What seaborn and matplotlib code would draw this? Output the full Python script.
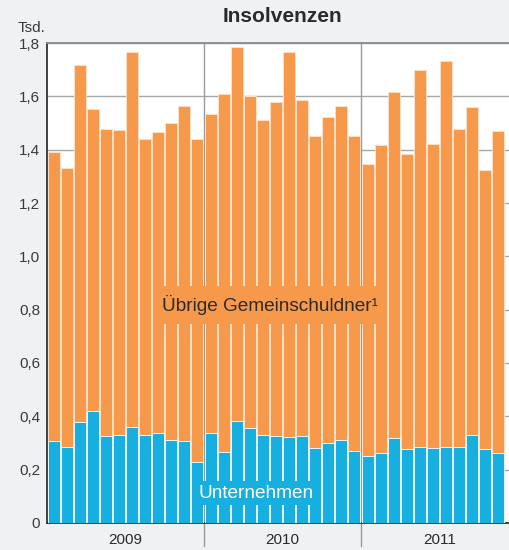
import matplotlib
matplotlib.use("Agg")
import matplotlib.pyplot as plt
import seaborn as sns
import pandas as pd

# ---- data (Tsd.) ----
months = [f"{y}-{m:02d}" for y in (2009, 2010, 2011) for m in range(1, 13)][:35]
total = [1.392, 1.332, 1.719, 1.551, 1.476, 1.474, 1.766, 1.440, 1.467, 1.501, 1.565, 1.439,
         1.532, 1.610, 1.785, 1.601, 1.512, 1.579, 1.766, 1.585, 1.452, 1.521, 1.565, 1.450,
         1.345, 1.416, 1.615, 1.383, 1.700, 1.422, 1.734, 1.478, 1.559, 1.324, 1.471]
unternehmen = [0.307, 0.284, 0.379, 0.419, 0.325, 0.331, 0.359, 0.329, 0.336, 0.311, 0.306, 0.230,
               0.339, 0.265, 0.382, 0.356, 0.330, 0.327, 0.322, 0.325, 0.280, 0.300, 0.311, 0.270,
               0.252, 0.262, 0.317, 0.279, 0.285, 0.282, 0.286, 0.284, 0.329, 0.276, 0.262]
years = ["2009", "2010", "2011"]
ytick_vals = [0, 0.2, 0.4, 0.6, 0.8, 1.0, 1.2, 1.4, 1.6, 1.8]
ytick_labels = ["0", "0,2", "0,4", "0,6", "0,8", "1,0", "1,2", "1,4", "1,6", "1,8"]

df = pd.DataFrame({"month": months, "total": total, "unternehmen": unternehmen})

ORANGE = "#f7994a"
BLUE = "#16afe0"
BG = "#f0f1f3"
TXT = "#2a2a2a"

sns.set_style("white")
plt.rcParams["font.family"] = ["Liberation Sans", "DejaVu Sans"]

W, H = 509, 550
fig = plt.figure(figsize=(W / 100, H / 100), dpi=100, facecolor=BG)
left, right, top, bottom = 47, 518, 43, 523
ax = fig.add_axes([left / W, 1 - bottom / H, (right - left) / W, (bottom - top) / H])
ax.set_facecolor("white")

sns.barplot(data=df, x="month", y="total", color=ORANGE, saturation=1, width=0.92,
            edgecolor="#fde0c6", linewidth=0.7, ax=ax, zorder=2)
sns.barplot(data=df, x="month", y="unternehmen", color=BLUE, saturation=1, width=0.92,
            edgecolor="#e6f6fc", linewidth=0.7, ax=ax, zorder=3)

ax.set_xlim(-0.5, 35.5)
ax.set_ylim(0, 1.8)
ax.set_yticks(ytick_vals)
ax.set_yticklabels(ytick_labels, fontsize=11, color="#3a3a3a")
ax.set_xticks([])
ax.set_xlabel("")
ax.set_ylabel("")
ax.tick_params(axis="y", length=0, pad=5)
ax.yaxis.grid(True, color="#a8a8a8", lw=1.0, zorder=0)
ax.set_axisbelow(True)

for s in ("left", "bottom"):
    ax.spines[s].set_color("#333333")
    ax.spines[s].set_linewidth(1.3)
ax.spines["top"].set_color("#8a8a8a")
ax.spines["top"].set_linewidth(1.3)
ax.spines["right"].set_visible(False)

# year dividers
ext = (546 - bottom) / (bottom - top)
for xd in (11.5, 23.5):
    ax.axvline(xd, ymin=-ext, ymax=1, color="#9a9a9a", lw=1.0, zorder=1, clip_on=False)

# year labels
for i, yl in enumerate(years):
    ax.text(i * 12 + 5.5, -(540 - bottom) / (bottom - top) * 1.8, yl, ha="center", va="center",
            fontsize=11, color=TXT, clip_on=False)

# series labels
ax.text(16.55, 0.8175, "Übrige Gemeinschuldner¹", ha="center", va="center", fontsize=13.7,
        color=TXT, zorder=5,
        bbox=dict(boxstyle="square,pad=0.45", facecolor=ORANGE, edgecolor="none"))
ax.text(15.5, 0.1125, "Unternehmen", ha="center", va="center", fontsize=13.7,
        color="white", zorder=5,
        bbox=dict(boxstyle="square,pad=0.2", facecolor=BLUE, edgecolor="none"))

fig.text(282 / W, 1 - 17 / H, "Insolvenzen", ha="center", va="center", fontsize=15,
         fontweight="bold", color=TXT)
fig.text(45 / W, 1 - 28 / H, "Tsd.", ha="right", va="center", fontsize=11, color="#3a3a3a")

fig.savefig("out.png", dpi=100, facecolor=BG)
